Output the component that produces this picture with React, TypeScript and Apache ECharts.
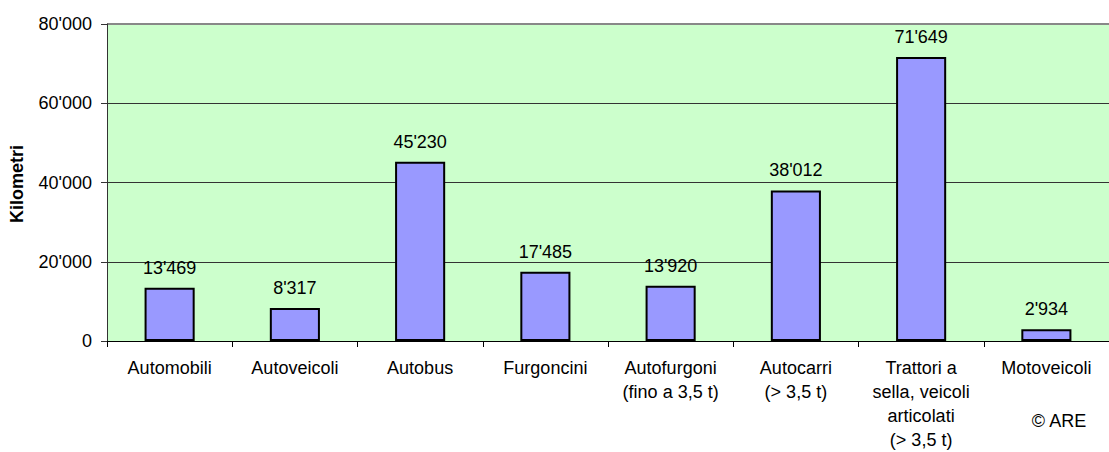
import React, { useEffect, useRef } from "react";
import * as echarts from "echarts";

const categories = [
  "Automobili",
  "Autoveicoli",
  "Autobus",
  "Furgoncini",
  "Autofurgoni\n(fino a 3,5 t)",
  "Autocarri\n(> 3,5 t)",
  "Trattori a\nsella, veicoli\narticolati\n(> 3,5 t)",
  "Motoveicoli",
];
const values = [13469, 8317, 45230, 17485, 13920, 38012, 71649, 2934];
const yTicks = [0, 20000, 40000, 60000, 80000];
const yTitle = "Kilometri";
const credit = "© ARE";

const fmt = (v: number) => String(v).replace(/\B(?=(\d{3})+(?!\d))/g, "'");

export default function App() {
  const ref = useRef<HTMLDivElement>(null);
  useEffect(() => {
    document.body.style.margin = "0";
    const chart = echarts.init(ref.current!, null, { renderer: "svg" });
    const font = "Liberation Sans, Arial, sans-serif";
    const fs = 18;
    chart.setOption({
      animation: false,
      textStyle: { fontFamily: font },
      grid: {
        left: 107,
        top: 24,
        width: 1016,
        height: 321,
        show: true,
        backgroundColor: "#CCFFCC",
        borderWidth: 0,
      },
      xAxis: {
        type: "category",
        data: categories,
        axisLine: { lineStyle: { color: "#000", width: 1 } },
        axisTick: { show: true, alignWithLabel: false, length: 6, lineStyle: { color: "#000" } },
        axisLabel: {
          interval: 0,
          color: "#000",
          fontSize: fs,
          lineHeight: 24,
          margin: 15,
          fontFamily: font,
        },
      },
      yAxis: {
        type: "value",
        min: yTicks[0],
        max: yTicks[yTicks.length - 1],
        interval: 20000,
        axisLine: { show: true, lineStyle: { color: "#333", width: 1 } },
        axisTick: { show: true, length: 6, lineStyle: { color: "#333" } },
        axisLabel: {
          color: "#000",
          fontSize: fs,
          margin: 15,
          fontFamily: font,
          formatter: (v: number) => fmt(v),
        },
        splitLine: {
          show: true,
          lineStyle: { color: ["#333", "#333", "#333", "#333", "#888"], width: 1 },
        },
      },
      series: [
        {
          type: "bar",
          data: values,
          barWidth: "40%",
          itemStyle: { color: "#9999FF", borderColor: "#000", borderWidth: 2 },
          label: {
            show: true,
            position: "top",
            distance: 11,
            color: "#000",
            fontSize: fs,
            fontFamily: font,
            formatter: (p: any) => fmt(p.value),
          },
        },
      ],
      graphic: [
        {
          type: "rect",
          shape: { x: 107, y: 23, width: 1002, height: 2 },
          style: { fill: "#888" },
        },
        {
          type: "text",
          x: 17,
          y: 184,
          rotation: Math.PI / 2,
          style: {
            text: yTitle,
            fontSize: fs,
            fontWeight: "bold",
            fontFamily: font,
            fill: "#000",
            textAlign: "center",
            textVerticalAlign: "middle",
          },
        },
        {
          type: "text",
          x: 1059,
          y: 421,
          style: {
            text: credit,
            fontSize: fs,
            fontFamily: font,
            fill: "#000",
            textAlign: "center",
            textVerticalAlign: "middle",
          },
        },
      ],
    });
    return () => chart.dispose();
  }, []);
  return <div ref={ref} style={{ width: 1109, height: 452 }} />;
}
